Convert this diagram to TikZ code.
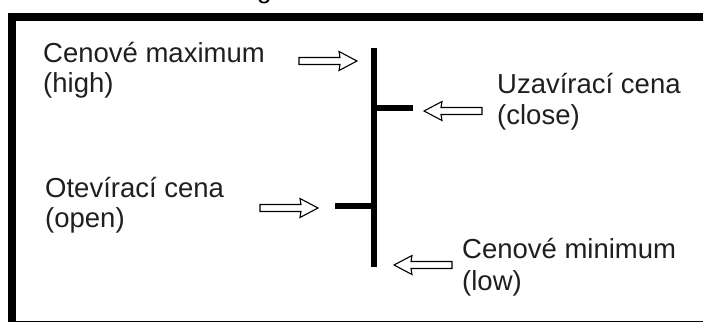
\documentclass[tikz,border=0pt]{standalone}
\usepackage{fontspec}
\setmainfont{Liberation Sans}
\begin{document}
\begin{tikzpicture}[x=1pt,y=-1pt,
  label/.style={anchor=base west,inner sep=0pt,font=\fontsize{27.5}{32}\selectfont,text=black!88},
  framebar/.style={fill=black},
  candle/.style={line width=6pt,line cap=butt},
  arrowline/.style={draw=black,fill=white,line width=1.1pt,line join=miter},
  hollowarrow/.pic={
    \draw[arrowline] (0,-3.5) -- (41,-3.5) -- (40,-9.5) -- (58,0) -- (40,9.5) -- (41,3.5) -- (0,3.5) -- cycle;
  }]
\useasboundingbox (0,0) rectangle (703,322);

% frame: thick top and left edges, thin bottom edge
\fill[framebar] (8,13) rectangle (703,21);
\fill[framebar] (8,13) rectangle (16,322);
\fill[framebar] (8,320.5) rectangle (703,322);

% descender of the caption line above the frame
\node[inner sep=0pt,anchor=base west,font=\fontsize{26}{30}\selectfont] (captiontail) at (257,-1.5) {g};

% OHLC bar
\coordinate (high) at (374,48);
\coordinate (low) at (374,267);
\coordinate (closebase) at (374,108);
\coordinate (closetick) at (413,108);
\coordinate (openbase) at (374,206);
\coordinate (opentick) at (335,206);
\draw[candle] (high) -- (low);
\draw[candle] (closebase) -- (closetick);
\draw[candle] (openbase) -- (opentick);

% pointer arrows
\pic at (299,61) {hollowarrow};
\pic[rotate=180] at (482,111) {hollowarrow};
\pic at (260,208) {hollowarrow};
\pic[rotate=180] at (452,265) {hollowarrow};

% labels
\node[label] (highname) at (43,62) {Cenové maximum};
\node[label] (highsub) at (43,92) {(high)};
\node[label] (closename) at (497,93) {Uzavírací cena};
\node[label] (closesub) at (497,124) {(close)};
\node[label] (openname) at (45,197) {Otevírací cena};
\node[label] (opensub) at (45,227) {(open)};
\node[label] (lowname) at (462,258) {Cenové minimum};
\node[label] (lowsub) at (462,290) {(low)};
\end{tikzpicture}
\end{document}
